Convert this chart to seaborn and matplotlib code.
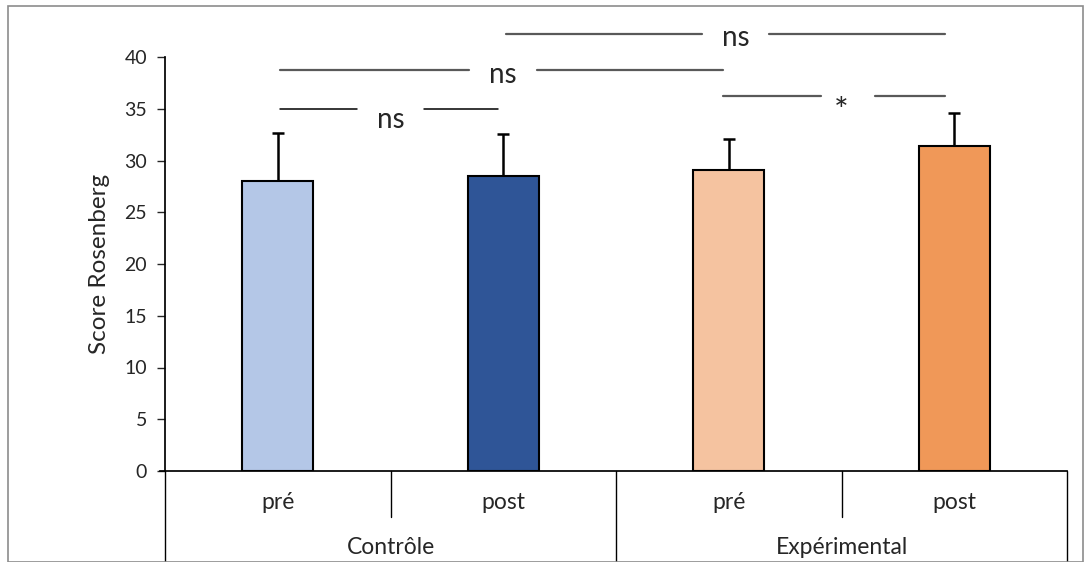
import pandas as pd
import matplotlib.pyplot as plt
import matplotlib.patches as mpatches
import seaborn as sns

# Data
groups = ['Contrôle', 'Contrôle', 'Expérimental', 'Expérimental']
phases = ['pré', 'post', 'pré', 'post']
means = [28.0, 28.5, 29.1, 31.4]
errors = [4.7, 4.1, 3.0, 3.2]
colors = ['#B4C7E7', '#2F5597', '#F5C3A0', '#F09858']

# significance brackets: (bar from, bar to, line height, label)
bracket_from = [0, 0, 1, 2]
bracket_to = [1, 2, 3, 3]
bracket_y = [35.0, 38.7, 42.2, 36.2]
bracket_lbl = ['ns', 'ns', 'ns', '*']

df = pd.DataFrame({'group': groups, 'phase': phases, 'score': means})
df['bar'] = [f'{g} {p}' for g, p in zip(groups, phases)]

sns.set_theme(style='white')
plt.rcParams['font.family'] = ['Lato', 'DejaVu Sans']

fig = plt.figure(figsize=(10.91, 5.62), dpi=100)
ax = fig.add_axes([165 / 1091, 1 - 471 / 562, 902 / 1091, 414 / 562])

sns.barplot(data=df, x='bar', y='score', hue='bar', palette=colors, legend=False,
            saturation=1, width=0.315, edgecolor='black', linewidth=1.5, ax=ax, zorder=2)

xs = list(range(len(means)))
ax.errorbar(xs, means, yerr=[[0] * len(means), errors], fmt='none', ecolor='black',
            elinewidth=1.8, capsize=4.5, capthick=1.8, zorder=1)

ax.set_ylim(0, 40)
ax.set_xlim(-0.5, 3.5)
ax.set_yticks(range(0, 41, 5))
ax.tick_params(axis='y', labelsize=14, length=6, width=1, direction='out', left=True, pad=7)
ax.set_xticks([])
ax.set_xlabel('')
ax.set_ylabel('Score Rosenberg', fontsize=17.5, labelpad=10)
for s in ['top', 'right']:
    ax.spines[s].set_visible(False)
ax.spines['left'].set_color('black')
ax.spines['bottom'].set_color('black')
ax.spines['bottom'].set_bounds(-0.52, 3.5)

# two-level category axis below the plot
trans = ax.get_xaxis_transform()
for x0, h in [(-0.5, -0.22), (0.5, -0.11), (1.5, -0.22), (2.5, -0.11), (3.5, -0.22)]:
    ax.plot([x0, x0], [0, h], color='black', lw=1, transform=trans, clip_on=False)
for i, p in enumerate(phases):
    ax.text(i, -0.075, p, transform=trans, ha='center', va='center', fontsize=16.5)
for c, g in zip([0.5, 2.5], ['Contrôle', 'Expérimental']):
    ax.text(c, -0.185, g, transform=trans, ha='center', va='center', fontsize=16.5)

# significance brackets with the label in a gap
for a, b, y, lbl in zip(bracket_from, bracket_to, bracket_y, bracket_lbl):
    # the Excel brackets stop a little short of the bar centres on the right side
    left = a - 0.025 if a == 2 else a + 0.01
    right = b - 0.04 if b == 3 else b - 0.025
    mid = (a + b) / 2 + (0.03 if b == 3 else 0)
    gap = 0.15 if lbl == 'ns' else 0.12
    first = (a, b) == (0, 1)
    col = 'black' if first else '#595959'
    lw = 1.1 if first else 1.6
    ax.plot([left, mid - gap], [y, y], color=col, lw=lw, clip_on=False)
    ax.plot([mid + gap, right], [y, y], color=col, lw=lw, clip_on=False)
    if lbl == '*':
        ax.text(mid - 0.03, y - 1.5, lbl, ha='center', va='center', fontsize=25, clip_on=False)
    else:
        dy = 1.1 if first else 0.4
        ax.text(mid, y - dy, lbl, ha='center', va='center', fontsize=20, clip_on=False)

# grey chart frame
fig.patches.append(mpatches.Rectangle((8 / 1091, 0), 1075 / 1091, 1 - 6 / 562,
                                      transform=fig.transFigure, fill=False,
                                      edgecolor='#8c8c8c', lw=1.2))

fig.savefig('out.png', dpi=100)
